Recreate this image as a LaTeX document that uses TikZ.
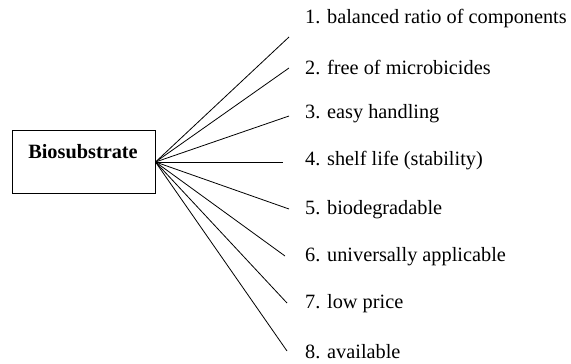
\documentclass[tikz,border=0pt]{standalone}
\usepackage{fontspec}
\setmainfont{Liberation Serif}
\begin{document}
\begin{tikzpicture}[x=1pt,y=-1pt,
  lbl/.style={anchor=west,inner sep=0pt,font=\fontsize{20.3}{24}\selectfont},
  ray/.style={line width=0.8pt}]
\useasboundingbox (0,0) rectangle (571,364);
\node[draw,line width=0.8pt,minimum width=143pt,minimum height=63pt,inner sep=0pt] (b) at (83.5,161.5) {};
\node[inner sep=0pt,font=\bfseries\fontsize{20.3}{24}\selectfont] (bt) at (83,152) {Biosubstrate};
\coordinate (h) at (155.5,162);
\coordinate (e1) at (289,37);
\coordinate (e2) at (289,68);
\coordinate (e3) at (289,116);
\coordinate (e4) at (283,162);
\coordinate (e5) at (289,209);
\coordinate (e6) at (285,256);
\coordinate (e7) at (287,303);
\coordinate (e8) at (287,351);
\node[lbl] (l1) at (305,19) {1. balanced ratio of components};
\node[lbl] (l2) at (305,67) {2. free of microbicides};
\node[lbl] (l3) at (305,114) {3. easy handling};
\node[lbl] (l4) at (305,161) {4. shelf life (stability)};
\node[lbl] (l5) at (305,210) {5. biodegradable};
\node[lbl] (l6) at (305,257) {6. universally applicable};
\node[lbl] (l7) at (305,304) {7. low price};
\node[lbl] (l8) at (305,352) {8. available};
\foreach \i in {1,...,8} \draw[ray] (h) -- (e\i);
\end{tikzpicture}
\end{document}
